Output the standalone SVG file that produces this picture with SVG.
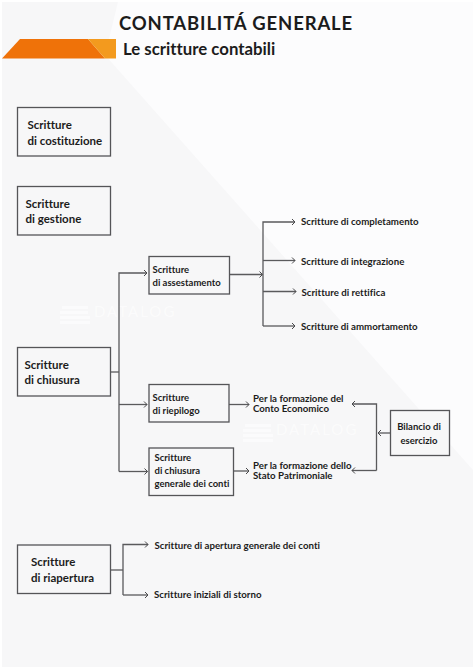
<svg xmlns="http://www.w3.org/2000/svg" width="474" height="670" viewBox="0 0 474 670">
<style>
text{font-family:Lato,"Open Sans",sans-serif;font-weight:700;fill:#1c1c1c;font-variant-ligatures:none}
.b{fill:#f7f7f8;stroke:#555558;stroke-width:1.3}
.t1{font-size:11.500px}
.t2{font-size:9.500px}
.t3{font-size:9.700px}
.c{fill:none;stroke:#5a5a5c;stroke-width:1.3}
.wm{fill:#fdfdfd;font-weight:400;font-size:15px;letter-spacing:2px;opacity:.8}
</style>
<defs><marker id="a" markerWidth="6" markerHeight="8" refX="4.500" refY="4" orient="auto" markerUnits="userSpaceOnUse"><path d="M1.500 1L4.500 4L1.500 7" fill="none" stroke="#4a4a4c" stroke-width="1"/></marker></defs>
<rect width="474" height="670" fill="#ffffff"/>
<rect x="2" y="2" width="471" height="665" fill="#f7f7f8"/>
<polygon points="118,2 473,2 473,470 105,55" fill="#fcfcfd"/>
<g id="banner">
<polygon points="2,58.500 20,39 88,39 105,58.500" fill="#ef7209"/>
<polygon points="88,39 116,39 116,58.500 105,58.500" fill="#f39a1e"/>
<text x="119" y="29.500" style="font-size:18.500px;letter-spacing:.85px">CONTABILITÁ GENERALE</text>
<text x="123" y="54.500" style="font-size:16.800px">Le scritture contabili</text>
</g>
<g id="watermarks">
<g fill="#fdfdfd" opacity=".8"><rect x="62" y="306" width="26" height="3"/><rect x="60" y="311" width="28" height="3"/><rect x="60" y="316" width="30" height="3"/><rect x="60" y="321" width="30" height="3"/>
<rect x="245" y="424" width="26" height="3"/><rect x="243" y="429" width="28" height="3"/><rect x="243" y="434" width="30" height="3"/><rect x="243" y="439" width="30" height="3"/></g>
<text class="wm" x="94" y="317">DATALOG</text>
<text class="wm" x="276" y="435">DATALOG</text>
</g>
<g id="connectors">
<path class="c" d="M110.500 372H119"/>
<path class="c" d="M119 471.500V273H147" marker-end="url(#a)"/>
<path class="c" d="M119 404.500H147" marker-end="url(#a)"/>
<path class="c" d="M119 471.500H147.500" marker-end="url(#a)"/>
<path class="c" d="M229.500 274.500H262.500" marker-end="url(#a)"/>
<path class="c" d="M263 326V222H295" marker-end="url(#a)"/>
<path class="c" d="M263 260.500H295" marker-end="url(#a)"/>
<path class="c" d="M263 291.500H296" marker-end="url(#a)"/>
<path class="c" d="M263 326H295" marker-end="url(#a)"/>
<path class="c" d="M229 404.500H249" marker-end="url(#a)"/>
<path class="c" d="M233.500 471H249" marker-end="url(#a)"/>
<path class="c" d="M376.500 470.500V404H352" marker-end="url(#a)"/>
<path class="c" d="M376.500 470.500H352" marker-end="url(#a)"/>
<path class="c" d="M390 433H378" marker-end="url(#a)"/>
<path class="c" d="M110.500 570H123"/>
<path class="c" d="M123 595V544.500H148" marker-end="url(#a)"/>
<path class="c" d="M123 595H148" marker-end="url(#a)"/>
</g>
<g id="n1"><rect class="b" x="17.500" y="107.500" width="93" height="48.500"/><text class="t1" x="27.500" y="129">Scritture</text><text class="t1" x="27.500" y="144.500">di costituzione</text></g>
<g id="n2"><rect class="b" x="17.500" y="186.500" width="93" height="48.500"/><text class="t1" x="25.500" y="207.500">Scritture</text><text class="t1" x="25.500" y="223">di gestione</text></g>
<g id="n3"><rect class="b" x="17.500" y="347.500" width="93" height="48.500"/><text class="t1" x="24.500" y="368.500">Scritture</text><text class="t1" x="24.500" y="384">di chiusura</text></g>
<g id="n4"><rect class="b" x="17.500" y="545" width="93" height="48.500"/><text class="t1" x="31" y="566">Scritture</text><text class="t1" x="31" y="582">di riapertura</text></g>
<g id="n5"><rect class="b" x="149" y="256.500" width="80.500" height="37.500"/><text class="t2" x="152.500" y="273">Scritture</text><text class="t2" x="152.500" y="286">di assestamento</text></g>
<g id="n6"><rect class="b" x="149" y="384.500" width="80" height="37.500"/><text class="t2" x="152.500" y="400.500">Scritture</text><text class="t2" x="152.500" y="413.500">di riepilogo</text></g>
<g id="n7"><rect class="b" x="149" y="448" width="84.500" height="47.500"/><text class="t2" x="154.500" y="461">Scritture</text><text class="t2" x="154.500" y="474">di chiusura</text><text class="t2" x="154.500" y="487">generale dei conti</text></g>
<g id="n8"><rect class="b" x="390.500" y="410.500" width="59" height="45"/><text class="t2" x="419" y="430" text-anchor="middle">Bilancio di</text><text class="t2" x="419" y="444" text-anchor="middle">esercizio</text></g>
<g id="l1"><text class="t3" x="301" y="225">Scritture di completamento</text></g>
<g id="l2"><text class="t3" x="301" y="264.500">Scritture di integrazione</text></g>
<g id="l3"><text class="t3" x="301.500" y="296">Scritture di rettifica</text></g>
<g id="l4"><text class="t3" x="301" y="330">Scritture di ammortamento</text></g>
<g id="l5"><text class="t3" x="253" y="402">Per la formazione del</text><text class="t3" x="253" y="412">Conto Economico</text></g>
<g id="l6"><text class="t3" x="253" y="469">Per la formazione dello</text><text class="t3" x="253" y="479">Stato Patrimoniale</text></g>
<g id="l7"><text class="t3" x="154.500" y="549">Scritture di apertura generale dei conti</text></g>
<g id="l8"><text class="t3" x="154" y="598">Scritture iniziali di storno</text></g>
</svg>
